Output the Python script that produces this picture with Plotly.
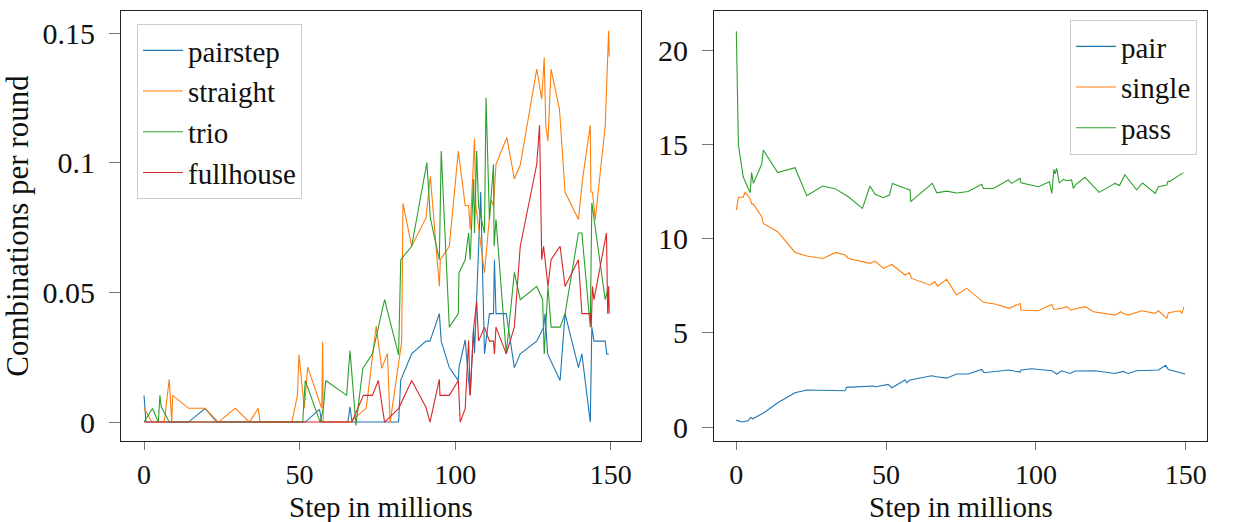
import plotly.graph_objects as go

# ---------------- left panel data ----------------
pairstep_x = [0, 0.6, 14.3, 19.6, 23.4, 51.8, 56.4, 57.1, 65.5, 66.2, 66.8, 81.8, 82.5, 86, 90.6, 91.9, 94.9, 95.5,
              98.1, 101, 101.2, 103.2, 104.3, 104.8, 105.9, 106.2, 108.2, 109.4, 111, 112.3, 112.6, 113.1, 116.4,
              119, 120.9, 126.2, 128.4, 128.9, 129.7, 133.7, 135.3, 139.6, 140.7, 143.4, 143.9, 144.6, 148.2,
              148.7, 149.3]
pairstep_y = [0.0103, 0, 0, 0.0052, 0, 0, 0.0049, 0, 0, 0.0059, 0, 0, 0.0162, 0.0263, 0.0312, 0.0312, 0.0418,
              0.0312, 0.021, 0.016, 0.021, 0.0317, 0.016, 0.0103, 0.0362, 0.0265, 0.0887, 0.0263, 0.0418, 0.0418,
              0.0626, 0.0418, 0.0418, 0.021, 0.0263, 0.0312, 0.0366, 0.0418, 0.0263, 0.016, 0.0418, 0.021, 0.0263,
              0, 0.0366, 0.0312, 0.0312, 0.0263, 0.0263]

straight_x = [0, 2.5, 6.5, 8.1, 8.9, 9.2, 14.3, 19.6, 23.9, 29.3, 33.9, 36.7, 37.3, 47.5, 49.3, 49.8, 51.5, 52.6,
              57.1, 57.4, 57.6, 66.2, 71.4, 74.6, 76.4, 78.2, 79.1, 82.8, 83.2, 86, 90.6, 92, 94.9, 95.2, 98.1,
              101, 103.2, 104.3, 104.8, 106.2, 106.6, 109.4, 111.5, 112.3, 113.1, 116.6, 119, 120.9, 126.2, 127.8,
              128.6, 129.1, 129.8, 130.8, 133.5, 135.3, 139.6, 140.9, 143.4, 143.6, 144.1, 145, 148.2, 149.3,
              149.5]
straight_y = [0.0054, 0, 0, 0.0165, 0, 0.0103, 0.0053, 0.0053, 0, 0.0053, 0, 0.0053, 0, 0, 0.0103, 0.0259,
              0.0053, 0.0212, 0.0053, 0.031, 0, 0, 0.0053, 0.037, 0.0207, 0.0265, 0, 0.031, 0.0843, 0.0678,
              0.0787, 0.0948, 0.0523, 0.0626, 0.0678, 0.1045, 0.0835, 0.0835, 0.0742, 0.1093, 0.0835, 0.0575,
              0.0858, 0.0832, 0.0994, 0.1097, 0.0938, 0.0991, 0.1361, 0.1245, 0.1406, 0.1142, 0.1084, 0.1361,
              0.1206, 0.0887, 0.0781, 0.0936, 0.1144, 0.0887, 0.0887, 0.0781, 0.1142, 0.1509, 0.141]

trio_x = [0, 2.7, 4.6, 5.1, 5.5, 8.1, 51, 51.8, 56.6, 57.6, 58.4, 65.1, 66.2, 68.1, 70.3, 73.4, 77.3, 81.8, 82.5,
          86, 90.9, 92, 94.9, 95.5, 98.1, 101, 101.2, 103.2, 104.3, 104.8, 105.9, 106.2, 106.9, 107.5, 109.4,
          109.9, 111, 112.3, 112.5, 113.1, 116.4, 119, 120.9, 126.2, 128.1, 128.6, 129.8, 130.8, 133.7, 135.3,
          139.6, 140.7, 143.4, 143.9, 148.2, 149.3]
trio_y = [0, 0.0052, 0, 0.0103, 0.006, 0, 0, 0.016, 0, 0.005, 0.016, 0.0103, 0.0276, -0.0013, 0.0207, 0.0263,
          0.0472, 0.0259, 0.0626, 0.0678, 0.1, 0.0787, 0.0626, 0.1045, 0.0366, 0.0418, 0.0575, 0.0626, 0.0729,
          0.0626, 0.0936, 0.0729, 0.1045, 0.0832, 0.0729, 0.1251, 0.0781, 0.0994, 0.0678, 0.0781, 0.0263,
          0.0577, 0.0472, 0.0523, 0.0472, 0.0263, 0.0523, 0.0366, 0.0366, 0.0418, 0.0729, 0.0729, 0.0366,
          0.0845, 0.0472, 0.0523]

fullhouse_x = [0, 66.8, 70.5, 73.4, 75.3, 77.3, 81.8, 86, 90.6, 91.9, 94.9, 95.1, 98.1, 101, 101.6, 103.2, 104.3,
               104.8, 105.9, 106.9, 107.5, 109.4, 111, 112.3, 112.6, 113.1, 116.4, 119, 120.9, 126.2, 127.1,
               127.8, 128.4, 129.8, 130.8, 133.7, 135.3, 139.6, 140.7, 143.4, 143.7, 144.1, 144.6, 148.6, 149,
               149.3, 149.5]
fullhouse_y = [0, 0, 0.0103, 0.0103, 0.016, 0, 0.0052, 0.016, 0.0057, 0, 0.0165, 0.0103, 0.0103, 0.016, 0,
               0.0052, 0.0314, 0.0103, 0.0362, 0.0465, 0.0312, 0.0366, 0.0312, 0.0312, 0.0263, 0.0366, 0.0263,
               0.0366, 0.0678, 0.0994, 0.1144, 0.0626, 0.0678, 0.0523, 0.0626, 0.0678, 0.0523, 0.0626, 0.0418,
               0.0418, 0.0366, 0.0523, 0.0472, 0.0729, 0.0418, 0.0523, 0.0418]

# ---------------- right panel data ----------------
pass_x = [0, 0.7, 2.3, 4.6, 5.1, 5.7, 8.5, 9, 13.8, 19.6, 23.5, 28.8, 32.9, 37.4, 42.1, 44.6, 46.3, 49.1, 51.1,
          52.1, 56.5, 58, 58.2, 65.4, 66.9, 70.2, 73.5, 77.4, 81.9, 82.5, 85.8, 90.8, 91.9, 94.7, 95, 100.8,
          104.5, 105.3, 106, 106.4, 106.9, 107.8, 109.2, 110.3, 111.9, 112.5, 113.1, 116.4, 121.1, 126.4, 127.9,
          129.7, 133.6, 135.6, 139.8, 140.9, 143.7, 144, 144.8, 149.2]
pass_y = [21.04, 14.99, 13.3, 12.45, 13.52, 12.95, 13.98, 14.72, 13.52, 13.78, 12.29, 12.81, 12.67, 12.24, 11.62,
          12.81, 12.37, 12.19, 12.33, 12.95, 12.68, 12.6, 11.98, 12.95, 12.45, 12.54, 12.44, 12.52, 12.9, 12.68,
          12.68, 13.13, 12.95, 13.22, 12.98, 12.77, 13.04, 12.42, 13.69, 13.45, 13.75, 12.98, 13.16, 13.09,
          13.13, 12.68, 12.86, 13.27, 12.47, 12.95, 12.84, 13.41, 12.6, 12.97, 12.42, 12.77, 12.86, 13.04,
          13.07, 13.52]

single_x = [0, 0.7, 2.3, 2.9, 4.6, 5.1, 5.7, 8.5, 9, 13.8, 19.6, 23.5, 28.8, 33.3, 36.3, 37.4, 44.6, 46.3, 49.1,
            51.9, 56.3, 57.8, 58.5, 64.7, 66.3, 67.1, 70.2, 73.5, 76.9, 82.5, 86.3, 91.1, 94.7, 95, 100.8, 103.5,
            105.3, 106, 108.6, 110.3, 111.6, 116.4, 119.2, 126.4, 128.3, 129.2, 130.8, 135.3, 139.8, 140.9,
            143.7, 144.2, 148.1, 148.7, 149.4]
single_y = [11.53, 12.21, 12.21, 12.47, 12.15, 11.85, 11.85, 11.18, 10.82, 10.38, 9.28, 9.09, 8.96, 9.28, 9.14,
            8.96, 8.7, 8.82, 8.43, 8.64, 8.08, 8.2, 7.9, 7.55, 7.72, 7.49, 7.85, 7.02, 7.37, 6.63, 6.54, 6.31,
            6.57, 6.22, 6.18, 6.36, 6.52, 6.25, 6.31, 6.4, 6.22, 6.4, 6.13, 5.95, 6.13, 6.04, 5.95, 6.18, 6.04,
            6.18, 5.78, 6.08, 6.18, 6.04, 6.39]

pair_x = [0, 0.7, 1.8, 3.9, 4.8, 5.5, 8.5, 9.2, 13.8, 19.6, 23.5, 36.3, 36.8, 45.7, 46.6, 50.7, 51.9, 56.3, 56.9,
          58, 65.2, 66.9, 70.2, 73.5, 77.4, 81.9, 82.7, 90.8, 94.7, 95, 98.6, 100.8, 105.3, 106.9, 108.6, 111.4,
          113.1, 119.7, 126.4, 129, 130.8, 133.6, 140.9, 143.3, 144.2, 149.8]
pair_y = [0.37, 0.34, 0.27, 0.34, 0.51, 0.44, 0.73, 0.76, 1.29, 1.82, 1.97, 1.93, 2.11, 2.18, 2.14, 2.27, 2.09,
          2.5, 2.36, 2.5, 2.73, 2.67, 2.6, 2.82, 2.82, 3.06, 2.89, 3.03, 2.92, 3.03, 3.1, 3.06, 2.99, 2.82, 2.99,
          2.85, 2.98, 2.99, 2.85, 2.96, 2.85, 2.99, 3.03, 3.28, 3.06, 2.82]

left_ticks = [0, 0.05, 0.1, 0.15]
left_ticktext = ["0", "0.05", "0.1", "0.15"]
right_ticks = [0, 5, 10, 15, 20]
x_ticks = [0, 50, 100, 150]
x_title = "Step in millions"
y_title = "Combinations per round"

C_BLUE, C_ORANGE, C_GREEN, C_RED = "#1f77b4", "#ff7f0e", "#2ca02c", "#d62728"
FONT = "Liberation Serif"
FS_TICK = 30
FS_XTICK = 28
FS_TITLE = 31
FS_XTITLE = 29
FS_LEG = 29

fig = go.Figure()
for name, xs, ys, c in [("pairstep", pairstep_x, pairstep_y, C_BLUE),
                        ("straight", straight_x, straight_y, C_ORANGE),
                        ("trio", trio_x, trio_y, C_GREEN),
                        ("fullhouse", fullhouse_x, fullhouse_y, C_RED)]:
    fig.add_trace(go.Scatter(x=xs, y=ys, mode="lines", name=name, line=dict(color=c, width=1.1),
                             xaxis="x", yaxis="y", legend="legend"))
for name, xs, ys, c in [("pair", pair_x, pair_y, C_BLUE),
                        ("single", single_x, single_y, C_ORANGE),
                        ("pass", pass_x, pass_y, C_GREEN)]:
    fig.add_trace(go.Scatter(x=xs, y=ys, mode="lines", name=name, line=dict(color=c, width=1.1),
                             xaxis="x2", yaxis="y2", legend="legend2"))

W, H = 1256, 522
base_axis = dict(showline=True, linecolor="#222", linewidth=1, mirror=True, ticks="outside",
                 tickcolor="#777", tickwidth=1, showgrid=False, zeroline=False, automargin=False)
y_axis_common = dict(base_axis, ticklen=11, tickfont=dict(family=FONT, size=FS_TICK, color="#111"))
x_axis_common = dict(base_axis, ticklen=8, tickfont=dict(family=FONT, size=FS_XTICK, color="#111"))
y_dom = [1 - 441 / H, 1 - 11 / H]
x1_dom = [121 / W, 641 / W]
x2_dom = [714 / W, 1207 / W]
title_font = dict(family=FONT, size=FS_TITLE, color="#111")
xtitle_font = dict(family=FONT, size=FS_XTITLE, color="#111")

fig.update_layout(
    width=W, height=H, margin=dict(l=0, r=0, t=0, b=0),
    paper_bgcolor="white", plot_bgcolor="white",
    font=dict(family=FONT, size=FS_TICK, color="#111"),
    xaxis=dict(domain=x1_dom, range=[-7.4, 159.7], tickvals=x_ticks, anchor="y", **x_axis_common),
    yaxis=dict(domain=y_dom, range=[-0.0073, 0.1585], tickvals=left_ticks, ticktext=left_ticktext, anchor="x",
               ticklabelstandoff=8,
               title=dict(text=y_title, font=title_font, standoff=4),
               **y_axis_common),
    xaxis2=dict(domain=x2_dom, range=[-7.45, 157.1], tickvals=x_ticks, anchor="y2", **x_axis_common),
    yaxis2=dict(domain=y_dom, range=[-0.74, 22.11], tickvals=right_ticks, anchor="x2", ticklabelstandoff=8,
                **y_axis_common),
    legend=dict(x=137 / W, y=1 - 24 / H, xanchor="left", yanchor="top", bgcolor="rgba(255,255,255,0.8)",
                bordercolor="#cccccc", borderwidth=1, font=dict(family=FONT, size=FS_LEG, color="#111"),
                itemwidth=40),
    legend2=dict(x=1197 / W, y=1 - 20 / H, xanchor="right", yanchor="top", bgcolor="rgba(255,255,255,0.8)",
                 bordercolor="#cccccc", borderwidth=1, font=dict(family=FONT, size=FS_LEG, color="#111"),
                 itemwidth=40),
)
for dom in (x1_dom, x2_dom):
    fig.add_annotation(x=(dom[0] + dom[1]) / 2, y=0, xref="paper", yref="paper", xanchor="center",
                       yanchor="bottom", text=x_title, showarrow=False, font=xtitle_font, yshift=-3)

fig.write_html("out.html")
